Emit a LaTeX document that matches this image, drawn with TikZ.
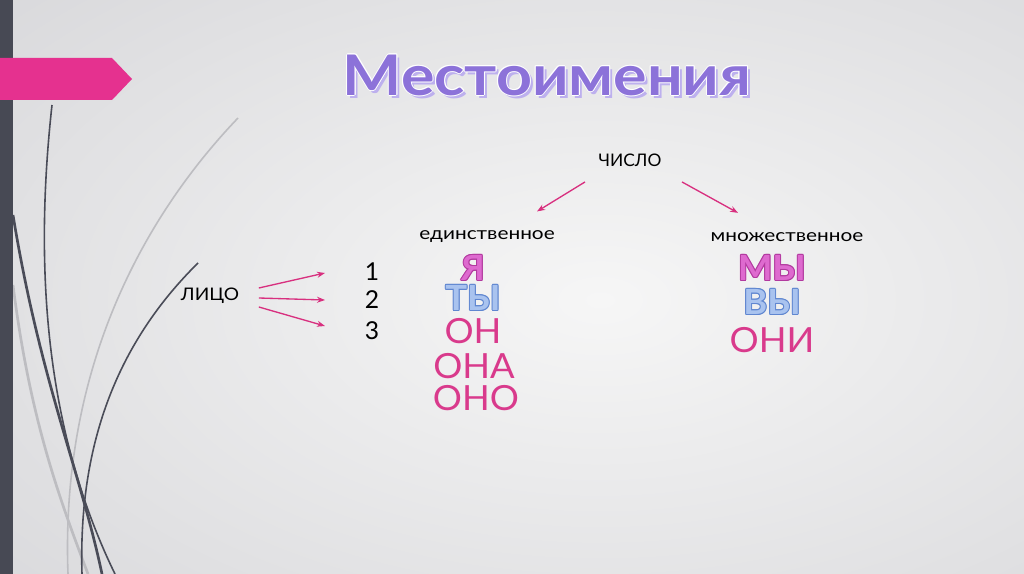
\documentclass[tikz,border=0pt]{standalone}
\usepackage{fontspec}
\setmainfont{Lato}
\usetikzlibrary{arrows.meta,calc}
\definecolor{bgin}{HTML}{F6F6F6}
\definecolor{bgout}{HTML}{D6D6D9}
\definecolor{barc}{HTML}{474954}
\definecolor{tabpink}{HTML}{E5318F}
\definecolor{arrpink}{HTML}{D8307F}
\definecolor{titlec}{HTML}{8C72D9}
\definecolor{titlesh}{HTML}{BDB0EE}
\definecolor{vfill}{HTML}{DE6ACF}
\definecolor{vline}{HTML}{B2399F}
\definecolor{bfill}{HTML}{A9C3EF}
\definecolor{bline}{HTML}{5F86D0}
\definecolor{pinkw}{HTML}{D93A8C}
\definecolor{curved}{HTML}{4A4C58}
\definecolor{curvel}{HTML}{BDBDC1}
\newcommand{\outlined}[7]{%
  \foreach \dx/\dy in {-1/0,1/0,0/-1,0/1,-0.7/-0.7,0.7/0.7,-0.7/0.7,0.7/-0.7}
    \node[text=#4,font=#5,xscale=#6] at ($(#2)+(\dx,\dy)$) {#7};
  \node[text=#3,font=#5,xscale=#6] (#1) at (#2) {#7};}
\tikzset{
  conn/.style={draw=arrpink,line width=1pt,-{Stealth[length=6pt,width=4.5pt]}},
  small/.style={font=\fontsize{13}{15}\selectfont,text=black,inner sep=1pt},
  word/.style={font=\fontsize{26}{28}\selectfont,text=pinkw,inner sep=1pt},
  num/.style={font=\fontsize{18.5}{20}\selectfont,text=black,inner sep=1pt},
}
\begin{document}
\begin{tikzpicture}[x=0.75pt,y=-0.75pt]
\useasboundingbox (0,0) rectangle (1024,574);
\shade[inner color=bgin,outer color=bgout] (-300,-200) rectangle (1500,800);
% decorative curves
\draw[curvel,line width=1.2pt] (238,118) .. controls (150,210) and (60,360) .. (68,574);
\draw[curvel,line width=2pt] (13,285) .. controls (30,420) and (60,500) .. (88,574);
\draw[curved,line width=1.2pt] (52,105) .. controls (36,250) and (40,420) .. (115,574);
\draw[curved,line width=2pt] (13,215) .. controls (40,380) and (80,470) .. (102,574);
\draw[curved,line width=1.2pt] (198,263) .. controls (120,340) and (78,440) .. (82,574);
% left bar and tab
\fill[barc] (0,0) rectangle (13,574);
\fill[tabpink] (0,58) -- (112,58) -- (132,79) -- (112,100) -- (0,100) -- cycle;
% title
\node[text=titlesh,font=\bfseries\fontsize{42}{44}\selectfont,xscale=1.12] at (550,78) {Местоимения};
\outlined{title}{547,75}{titlec}{white}{\bfseries\fontsize{42}{44}\selectfont}{1.12}{Местоимения}
% tree
\node[small] (chislo) at (630,160) {ЧИСЛО};
\node[small,xscale=1.2] (ed) at (487,237) {единственное};
\node[small,xscale=1.2] (mn) at (787,237) {множественное};
\draw[conn] ($(chislo.south)+(-45,14)$) -- ($(ed.north)+(50,-18)$);
\draw[conn] ($(chislo.south)+(52,14)$) -- ($(mn.north)+(-49,-18)$);
\node[small,xscale=1.1] (lico) at (210,296) {ЛИЦО};
\node[num] (n1) at (372,272) {1};
\node[num] (n2) at (372,300) {2};
\node[num] (n3) at (372,331) {3};
\coordinate (e1) at (325,273);
\coordinate (e2) at (325,300);
\coordinate (e3) at (325,326);
\draw[conn] ($(lico.east)+(18,-8)$) -- (e1);
\draw[conn] ($(lico.east)+(18,2)$) -- (e2);
\draw[conn] ($(lico.east)+(18,11)$) -- (e3);
\outlined{ya}{473,268}{vfill}{vline}{\bfseries\fontsize{26}{28}\selectfont}{1}{Я}
\outlined{ty}{473,298}{bfill}{bline}{\bfseries\fontsize{26}{28}\selectfont}{1.05}{ТЫ}
\node[word,xscale=1.05] (on) at (473,331) {ОН};
\node[word,xscale=1.05] (ona) at (474,366) {ОНА};
\node[word,xscale=1.05] (ono) at (476,398) {ОНО};
\outlined{my}{772,268}{vfill}{vline}{\bfseries\fontsize{26}{28}\selectfont}{1.05}{МЫ}
\outlined{vy}{772,302}{bfill}{bline}{\bfseries\fontsize{26}{28}\selectfont}{1.05}{ВЫ}
\node[word,xscale=1.05] (oni) at (772,340) {ОНИ};
\end{tikzpicture}
\end{document}
